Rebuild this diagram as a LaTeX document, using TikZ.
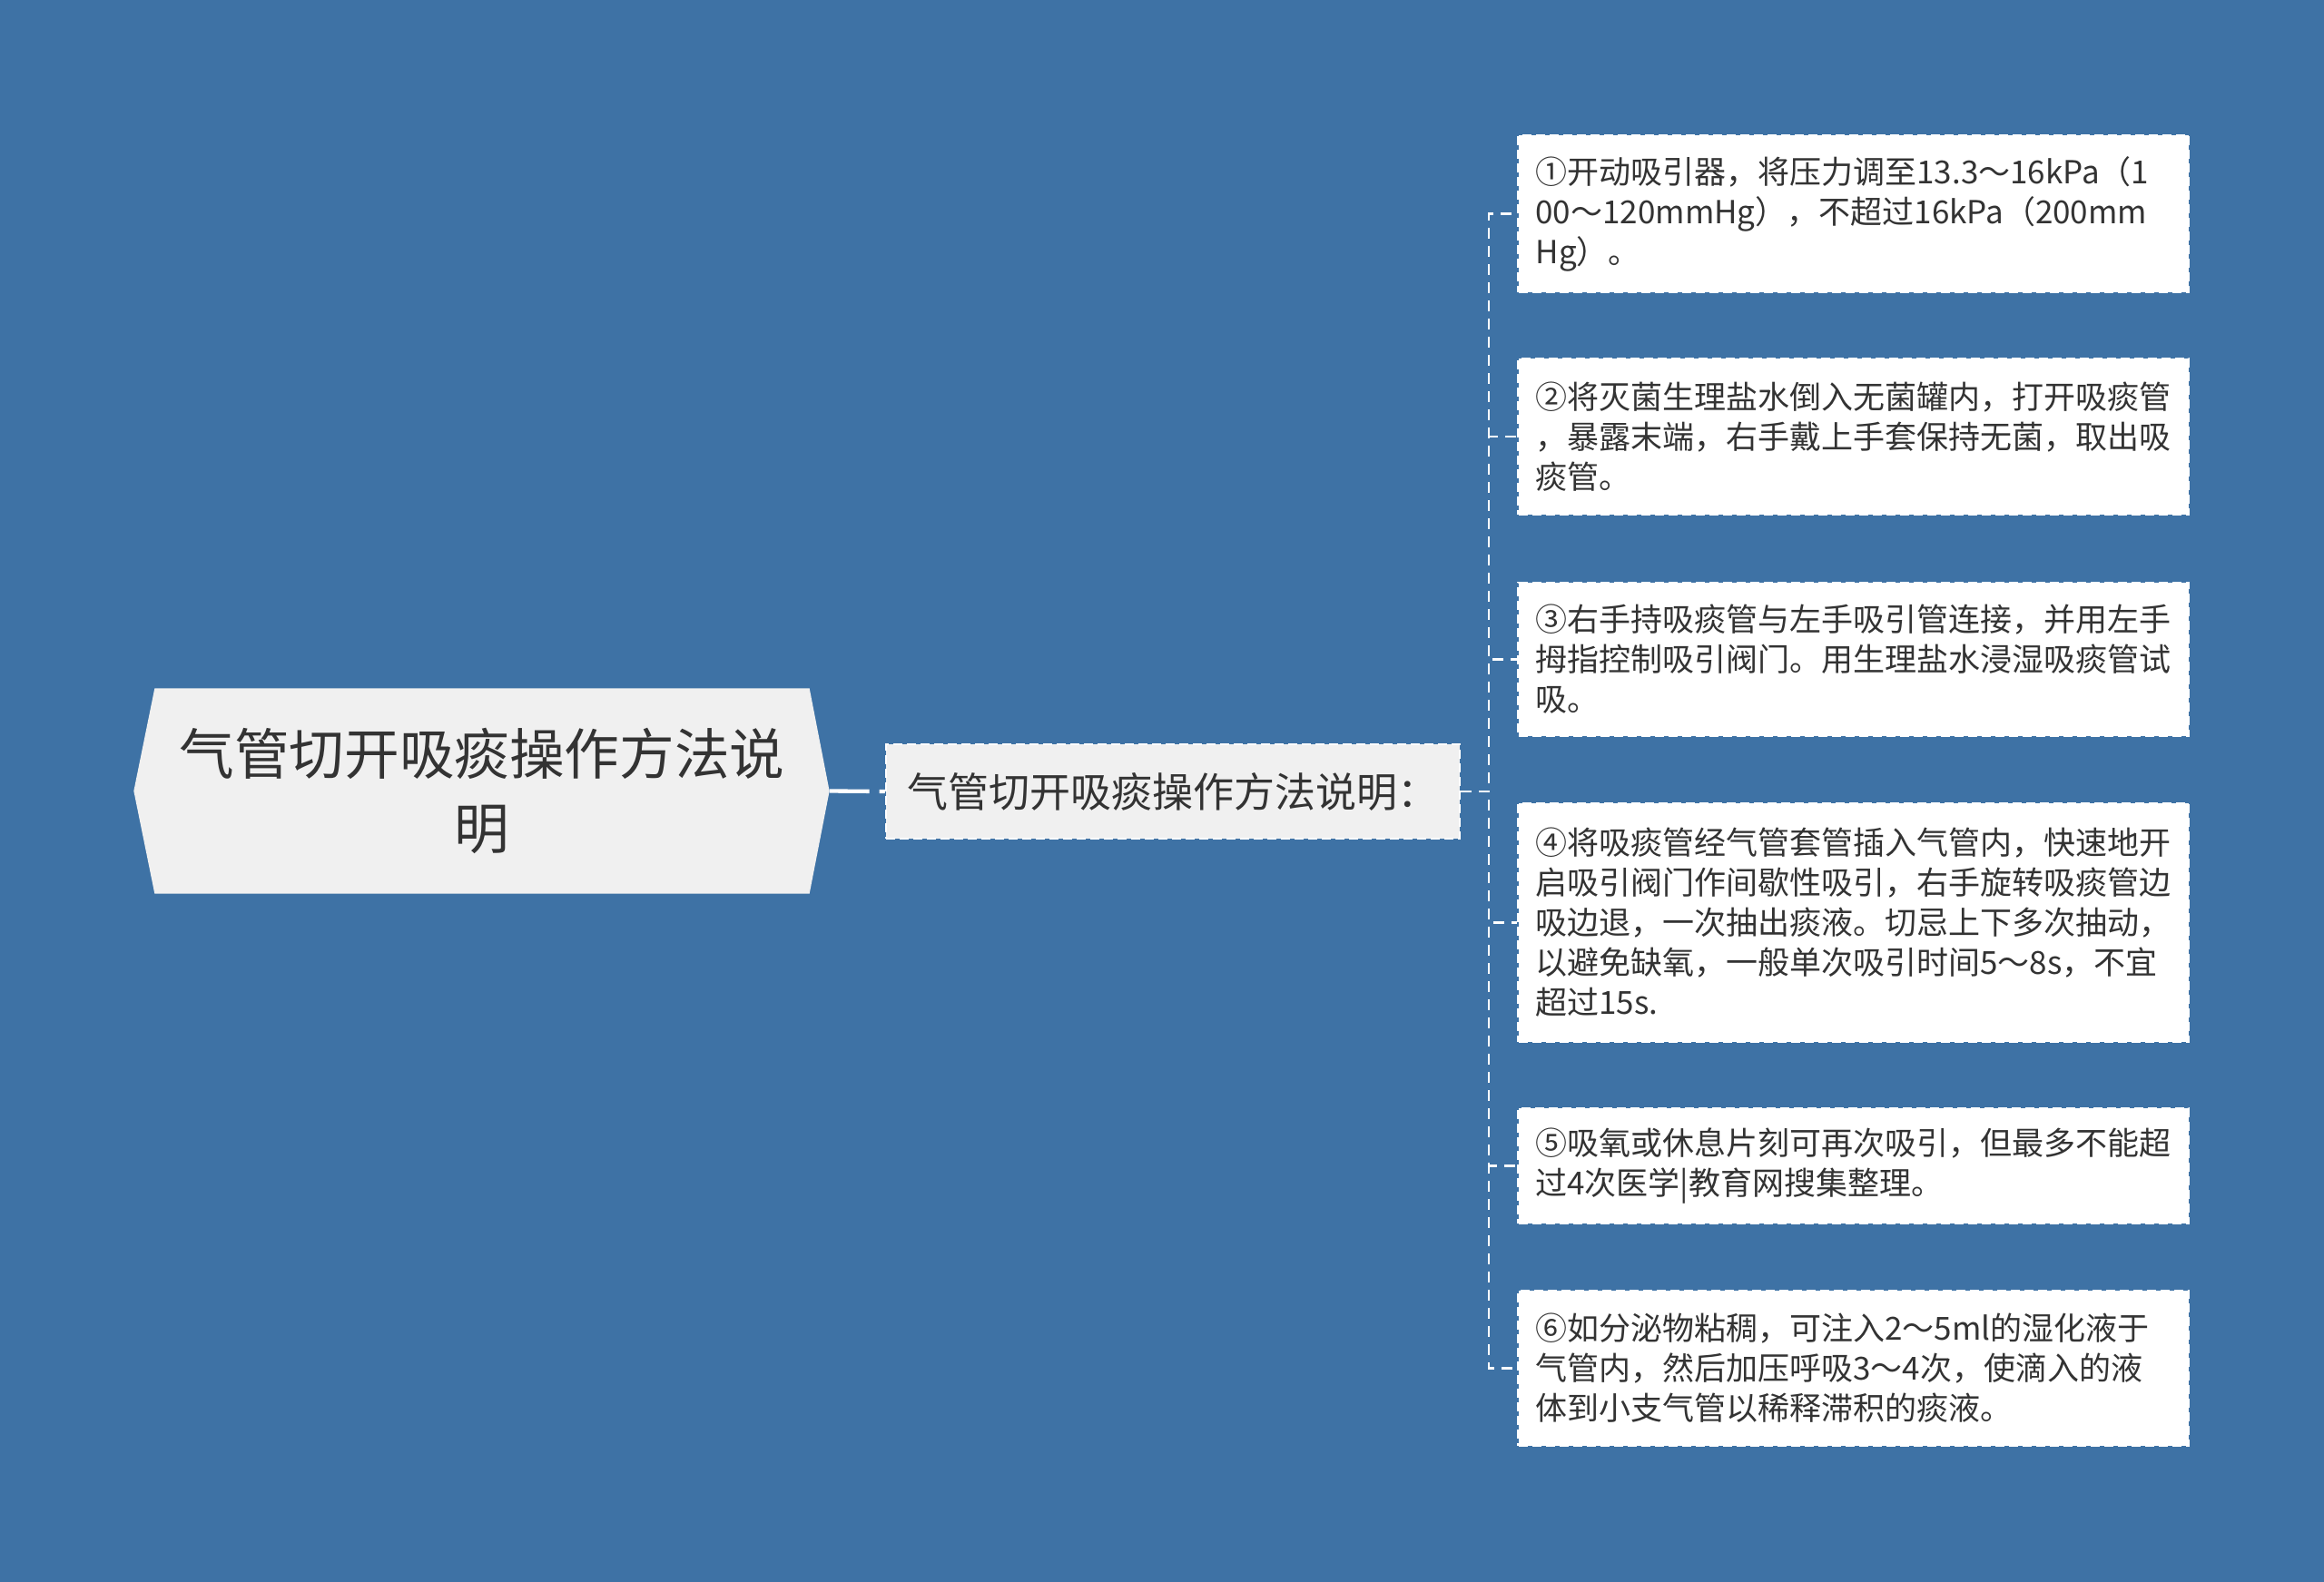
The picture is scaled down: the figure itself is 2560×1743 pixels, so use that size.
\documentclass[tikz,border=0pt]{standalone}
\usepackage{fontspec}
\setmainfont{Noto Sans CJK SC}
\usetikzlibrary{calc}
\definecolor{bgblue}{RGB}{62,114,165}
\definecolor{txt}{RGB}{51,51,51}
\definecolor{lightfill}{RGB}{240,240,240}
\pgfdeclarelayer{bg}
\pgfdeclarelayer{shape}
\pgfsetlayers{bg,shape,main}
\tikzset{
  boxedge/.style={draw=white, line width=0.75pt, dash pattern=on 3pt off 1.5pt},
  childbox/.style={boxedge, fill=white, text=txt,
    font=\fontsize{10.5pt}{13.2pt}\selectfont, align=left,
    text width=210pt, inner xsep=5.7pt, inner ysep=0pt, minimum width=221.4pt},
  midbox/.style={boxedge, fill=lightfill, text=txt,
    font=\fontsize{13.5pt}{16pt}\selectfont, inner sep=0pt,
    minimum width=189.6pt, minimum height=31.2pt},
  rootbox/.style={text=txt, font=\fontsize{18.2pt}{24.6pt}\selectfont,
    align=center, inner sep=0pt, minimum width=216pt, minimum height=67.5pt},
  rootconn/.style={draw=white, line width=1.3pt, dash pattern=on 13.2pt off 3.3pt},
  conn/.style={draw=white, line width=0.7pt, dash pattern=on 3.6pt off 2.4pt}
}
\begin{document}
\begin{tikzpicture}[x=0.3pt, y=-0.3pt]
\begin{pgfonlayer}{bg}
\fill[bgblue] (0,0) rectangle (2560,1743);
\end{pgfonlayer}
\useasboundingbox (0,0) rectangle (2560,1743);

% root
\node[rootbox] (root) at (531,871.5) {气管切开吸痰操作方法说\\明};
\begin{pgfonlayer}{shape}
\fill[lightfill] (root.north west) -- (root.north east) -- ($(root.east)+(22,0)$)
  -- (root.south east) -- (root.south west) -- ($(root.west)+(-23,0)$) -- cycle;
\end{pgfonlayer}
\coordinate (roottip) at ($(root.east)+(22,0)$);

% middle node
\node[midbox] (n2) at (1292,872) {气管切开吸痰操作方法说明：};

% children
\node[childbox, minimum height=51.9pt] (c1) at (2041.5,235.5)
  {①开动吸引器，将压力调至13.3～16kPa（1\\00～120mmHg），不超过16kPa（200mm\\Hg）。};
\node[childbox, minimum height=51.6pt] (c2) at (2041.5,481)
  {②将灭菌生理盐水倒入无菌罐内，打开吸痰管\\，暴露末端，右手戴上手套保持无菌，取出吸\\痰管。};
\node[childbox, minimum height=50.7pt] (c3) at (2041.5,726.5)
  {③右手持吸痰管与左手吸引管连接，并用左手\\拇指控制吸引阀门。用生理盐水浸湿吸痰管试\\吸。};
\node[childbox, minimum height=78.9pt] (c4) at (2041.5,1016.5)
  {④将吸痰管经气管套管插入气管内，快速地开\\启吸引阀门作间歇性吸引，右手旋转吸痰管边\\吸边退，一次抽出痰液。切忌上下多次抽动，\\以避免缺氧，一般单次吸引时间5～8s，不宜\\超过15s.};
\node[childbox, minimum height=38.1pt] (c5) at (2041.5,1284.5)
  {⑤吸氧或休息片刻可再次吸引，但最多不能超\\过4次医学|教育网搜集整理。};
\node[childbox, minimum height=51.3pt] (c6) at (2041.5,1507.5)
  {⑥如分泌物粘稠，可注入2～5ml的湿化液于\\气管内，然后加压呼吸3～4次，使滴入的液\\体到小支气管以稀释滞积的痰液。};

% connectors
\draw[rootconn] (roottip) -- (n2.west);
\coordinate (bus) at (1640,872);
\foreach \c in {c1,c2,c3,c4,c5,c6}
  \draw[conn] (n2.east) -- (bus) |- (\c.west);
\end{tikzpicture}
\end{document}
